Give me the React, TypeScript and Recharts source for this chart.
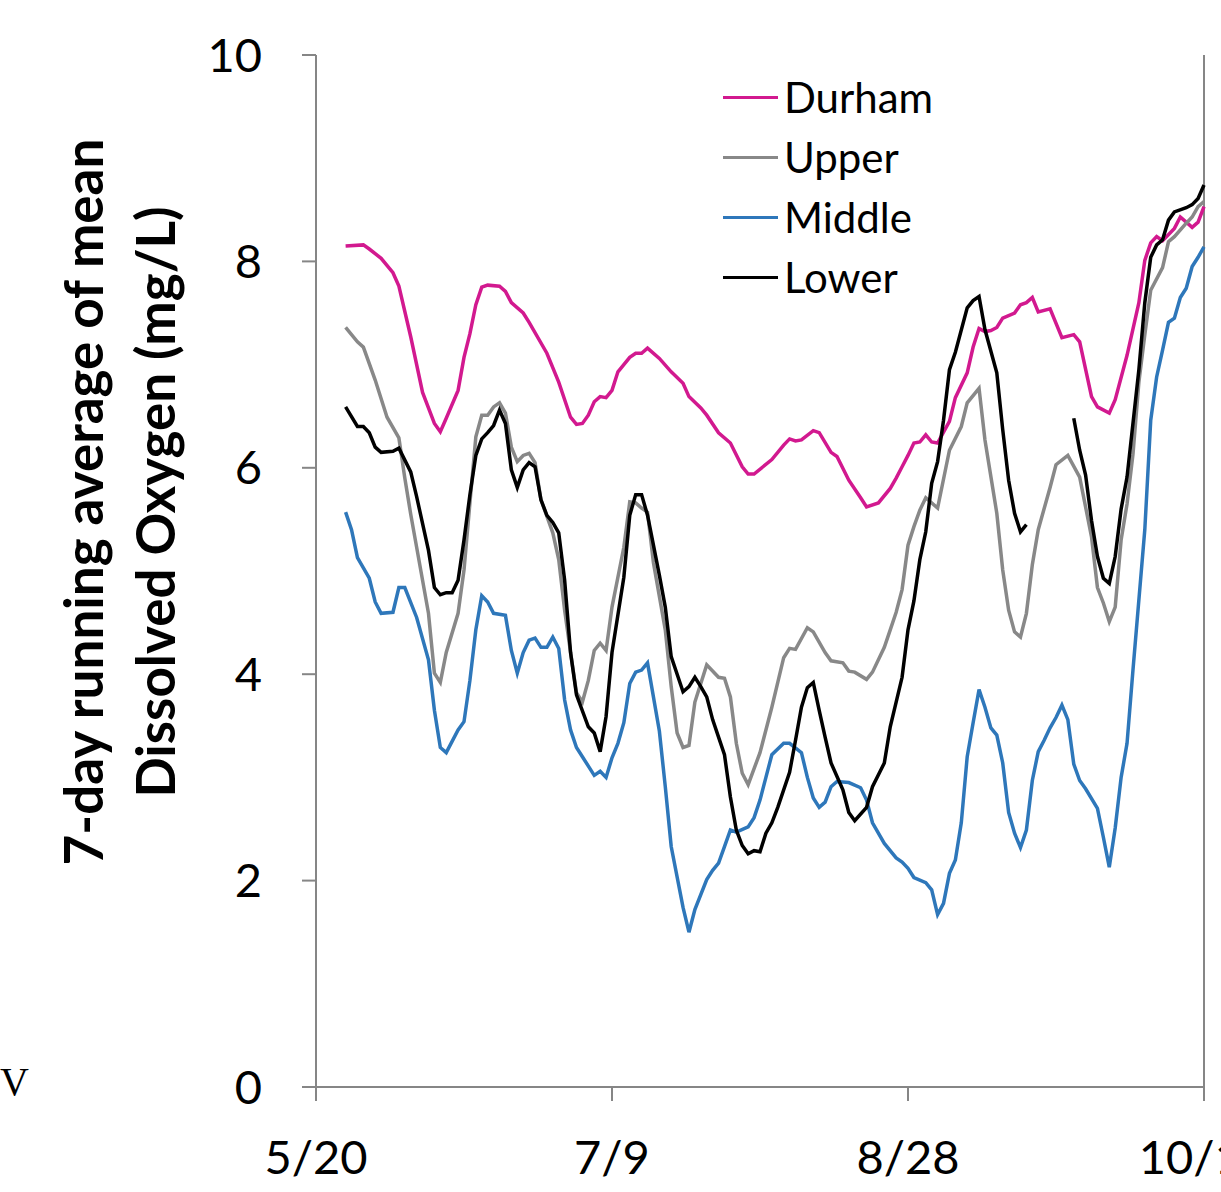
import { LineChart, Line, XAxis, YAxis, Legend, ReferenceLine } from "recharts";

// days since 5/20, 7-day running average of mean DO (mg/L)
const dateTicks = [0, 50, 100, 150];
const dateLabels = ["5/20", "7/9", "8/28", "10/17"];
const doTicks = [0, 2, 4, 6, 8, 10];

const durham: [number, number][] = [
  [5, 8.15], [8, 8.16], [9, 8.12], [11, 8.03], [13, 7.89], [14, 7.76], [16, 7.27], [18, 6.73],
  [20, 6.43], [21, 6.35], [22, 6.48], [24, 6.75], [25, 7.07], [26, 7.3], [27, 7.58], [28, 7.75],
  [29, 7.77], [31, 7.76], [32, 7.71], [33, 7.6], [35, 7.5], [36, 7.41], [39, 7.11], [41, 6.83],
  [43, 6.49], [44, 6.42], [45, 6.43], [46, 6.51], [47, 6.64], [48, 6.69], [49, 6.68], [50, 6.75],
  [51, 6.93], [53, 7.07], [54, 7.11], [55, 7.11], [56, 7.16], [58, 7.06], [60, 6.93], [62, 6.82],
  [63, 6.69], [65, 6.58], [66, 6.51], [68, 6.34], [70, 6.24], [72, 6.01], [73, 5.94], [74, 5.94],
  [77, 6.08], [79, 6.22], [80, 6.28], [81, 6.26], [82, 6.27], [84, 6.36], [85, 6.34], [87, 6.15],
  [88, 6.11], [90, 5.88], [92, 5.71], [93, 5.62], [95, 5.66], [97, 5.8], [98, 5.9], [99, 6.01],
  [100, 6.12], [101, 6.24], [102, 6.25], [103, 6.32], [104, 6.25], [105, 6.24], [107, 6.45],
  [108, 6.68], [110, 6.92], [111, 7.17], [112, 7.35], [113, 7.32], [114, 7.33], [115, 7.36],
  [116, 7.45], [118, 7.5], [119, 7.58], [120, 7.6], [121, 7.65], [122, 7.51], [124, 7.54],
  [126, 7.26], [128, 7.29], [129, 7.22], [131, 6.69], [132, 6.59], [134, 6.53], [135, 6.66],
  [137, 7.09], [139, 7.6], [140, 8.01], [141, 8.18], [142, 8.24], [143, 8.2], [145, 8.32],
  [146, 8.43], [147, 8.38], [148, 8.33], [149, 8.38], [150, 8.53],
];

const upper: [number, number][] = [
  [5, 7.36], [7, 7.22], [8, 7.17], [10, 6.85], [12, 6.49], [14, 6.29], [15, 5.9], [16, 5.55],
  [17, 5.23], [19, 4.59], [20, 4.01], [21, 3.92], [22, 4.21], [24, 4.59], [25, 5.01], [26, 5.66],
  [27, 6.3], [28, 6.51], [29, 6.51], [30, 6.59], [31, 6.63], [32, 6.53], [33, 6.2], [34, 6.06],
  [35, 6.12], [36, 6.14], [37, 6.05], [38, 5.69], [40, 5.37], [41, 5.11], [42, 4.62], [43, 4.21],
  [44, 3.82], [45, 3.73], [46, 3.94], [47, 4.23], [48, 4.3], [49, 4.23], [50, 4.65], [52, 5.23],
  [53, 5.67], [54, 5.66], [55, 5.61], [56, 5.57], [57, 5.08], [59, 4.43], [60, 3.88], [61, 3.43],
  [62, 3.29], [63, 3.31], [64, 3.73], [66, 4.09], [68, 3.97], [69, 3.96], [70, 3.78], [71, 3.33],
  [72, 3.04], [73, 2.93], [75, 3.24], [77, 3.68], [79, 4.16], [80, 4.25], [81, 4.24], [83, 4.45],
  [84, 4.41], [86, 4.21], [87, 4.13], [89, 4.11], [90, 4.03], [91, 4.02], [93, 3.95], [94, 4.02],
  [96, 4.26], [97, 4.43], [98, 4.6], [99, 4.82], [100, 5.25], [101, 5.43], [102, 5.59], [103, 5.71],
  [105, 5.61], [107, 6.17], [109, 6.4], [110, 6.63], [112, 6.77], [113, 6.27], [115, 5.56],
  [116, 5.01], [117, 4.62], [118, 4.41], [119, 4.36], [120, 4.59], [121, 5.06], [122, 5.4],
  [124, 5.81], [125, 6.03], [127, 6.12], [129, 5.91], [131, 5.33], [132, 4.84], [133, 4.69],
  [134, 4.51], [135, 4.65], [136, 5.3], [137, 5.65], [138, 6.13], [139, 6.83], [140, 7.29],
  [141, 7.72], [143, 7.94], [144, 8.19], [145, 8.24], [147, 8.37], [148, 8.43], [149, 8.53],
  [150, 8.58],
];

const middle: [number, number][] = [
  [5, 5.57], [6, 5.4], [7, 5.13], [9, 4.93], [10, 4.7], [11, 4.59], [13, 4.6], [14, 4.84],
  [15, 4.84], [17, 4.55], [19, 4.14], [20, 3.65], [21, 3.29], [22, 3.24], [24, 3.46], [25, 3.54],
  [26, 3.94], [27, 4.43], [28, 4.76], [29, 4.7], [30, 4.59], [32, 4.57], [33, 4.23], [34, 4.01],
  [35, 4.21], [36, 4.33], [37, 4.35], [38, 4.26], [39, 4.26], [40, 4.36], [41, 4.25], [42, 3.75],
  [43, 3.46], [44, 3.29], [45, 3.2], [47, 3.02], [48, 3.06], [49, 3.0], [50, 3.19], [51, 3.33],
  [52, 3.53], [53, 3.91], [54, 4.02], [55, 4.04], [56, 4.11], [58, 3.45], [59, 2.91], [60, 2.33],
  [62, 1.74], [63, 1.5], [64, 1.72], [66, 2.01], [67, 2.1], [68, 2.17], [69, 2.33], [70, 2.49],
  [71, 2.47], [73, 2.52], [74, 2.61], [75, 2.78], [76, 3.0], [77, 3.22], [79, 3.33], [80, 3.33],
  [82, 3.24], [83, 3.0], [84, 2.8], [85, 2.71], [86, 2.76], [87, 2.91], [88, 2.96], [90, 2.95],
  [92, 2.9], [93, 2.78], [94, 2.56], [96, 2.36], [98, 2.22], [99, 2.18], [100, 2.12], [101, 2.03],
  [103, 1.98], [104, 1.91], [105, 1.67], [106, 1.78], [107, 2.07], [108, 2.2], [109, 2.56],
  [110, 3.2], [111, 3.53], [112, 3.85], [113, 3.68], [114, 3.48], [115, 3.41], [116, 3.14],
  [117, 2.66], [118, 2.46], [119, 2.32], [120, 2.49], [121, 2.97], [122, 3.25], [123, 3.36],
  [124, 3.48], [125, 3.58], [126, 3.7], [127, 3.56], [128, 3.13], [129, 2.97], [130, 2.89],
  [132, 2.7], [133, 2.42], [134, 2.13], [135, 2.51], [136, 3.0], [137, 3.33], [138, 4.04],
  [139, 4.72], [140, 5.4], [141, 6.46], [142, 6.88], [143, 7.14], [144, 7.41], [145, 7.45],
  [146, 7.65], [147, 7.74], [148, 7.95], [149, 8.04], [150, 8.14],
];

// null = gap in the record
const lower: [number, number | null][] = [
  [5, 6.59], [7, 6.4], [8, 6.4], [9, 6.34], [10, 6.2], [11, 6.15], [13, 6.16], [14, 6.19],
  [16, 5.96], [17, 5.72], [19, 5.2], [20, 4.84], [21, 4.77], [22, 4.79], [23, 4.79], [24, 4.91],
  [25, 5.3], [26, 5.74], [27, 6.12], [28, 6.28], [29, 6.34], [30, 6.41], [31, 6.56], [32, 6.43],
  [33, 5.98], [34, 5.81], [35, 5.98], [36, 6.05], [37, 6.01], [38, 5.69], [39, 5.54], [40, 5.47],
  [41, 5.37], [42, 4.91], [43, 4.21], [44, 3.8], [46, 3.49], [47, 3.43], [48, 3.25], [49, 3.59],
  [50, 4.21], [52, 4.94], [53, 5.54], [54, 5.74], [55, 5.74], [56, 5.54], [57, 5.25], [58, 4.96],
  [59, 4.65], [60, 4.17], [62, 3.83], [63, 3.88], [64, 3.97], [65, 3.88], [66, 3.78], [67, 3.56],
  [68, 3.39], [69, 3.22], [70, 2.81], [71, 2.49], [72, 2.34], [73, 2.26], [74, 2.29], [75, 2.28],
  [76, 2.46], [77, 2.56], [78, 2.71], [80, 3.05], [81, 3.36], [82, 3.68], [83, 3.87], [84, 3.92],
  [85, 3.65], [86, 3.39], [87, 3.14], [89, 2.88], [90, 2.66], [91, 2.58], [93, 2.71], [94, 2.91],
  [96, 3.14], [97, 3.49], [99, 3.97], [100, 4.43], [101, 4.71], [102, 5.11], [103, 5.38],
  [104, 5.85], [105, 6.06], [106, 6.46], [107, 6.95], [108, 7.12], [110, 7.55], [111, 7.62],
  [112, 7.66], [113, 7.34], [115, 6.92], [116, 6.37], [117, 5.88], [118, 5.56], [119, 5.38],
  [120, 5.45], [124, null], [128, 6.48], [129, 6.17], [130, 5.93], [131, 5.49], [132, 5.14],
  [133, 4.93], [134, 4.88], [135, 5.14], [136, 5.6], [137, 5.91], [139, 6.95], [140, 7.6],
  [141, 8.04], [142, 8.16], [143, 8.21], [144, 8.4], [145, 8.48], [147, 8.52], [148, 8.55],
  [149, 8.61], [150, 8.74],
];

const toRows = (pts: [number, number | null][]) => pts.map(([day, v]) => ({ day, v }));

const SERIES = [
  { name: "Durham", color: "#d2198f", pts: durham },
  { name: "Upper", color: "#888888", pts: upper },
  { name: "Middle", color: "#2e77ba", pts: middle },
  { name: "Lower", color: "#000000", pts: lower },
];

const AXIS = "#868686";
const FONT = "Lato, 'Open Sans', sans-serif";

// legend drawn in the series order (Recharts would sort it by name)
function LegendBox() {
  return (
    <div style={{ fontFamily: FONT }}>
      {SERIES.map((s) => (
        <div key={s.name} style={{ display: "flex", alignItems: "center", height: 60 }}>
          <div style={{ width: 55, height: 3, background: s.color, marginRight: 6 }} />
          <span style={{ fontSize: 42, color: "#000", lineHeight: "60px" }}>{s.name}</span>
        </div>
      ))}
    </div>
  );
}

export default function App() {
  return (
    <div style={{ position: "relative", width: 1221, height: 1192, overflow: "hidden", background: "#fff", fontFamily: FONT }}>
      <style>{"body{margin:0}"}</style>
      <LineChart width={1300} height={1192} margin={{ top: 55, right: 96, left: 0, bottom: 0 }}>
        <XAxis
          dataKey="day"
          type="number"
          domain={[0, 150]}
          ticks={dateTicks}
          interval={0}
          tickFormatter={(d: number) => dateLabels[dateTicks.indexOf(d)]}
          height={105}
          tickSize={14}
          tickMargin={40}
          axisLine={{ stroke: AXIS, strokeWidth: 2 }}
          tickLine={{ stroke: AXIS, strokeWidth: 2 }}
          tick={{ fontSize: 47, fill: "#000", fontFamily: FONT }}
        />
        <YAxis
          type="number"
          domain={[0, 10]}
          ticks={doTicks}
          interval={0}
          width={316}
          tickSize={14}
          tickMargin={40}
          axisLine={{ stroke: AXIS, strokeWidth: 2 }}
          tickLine={{ stroke: AXIS, strokeWidth: 2 }}
          tick={{ fontSize: 47, fill: "#000", fontFamily: FONT }}
        />
        <ReferenceLine x={150} stroke={AXIS} strokeWidth={2} />
        <Legend
          layout="vertical"
          verticalAlign="middle"
          align="center"
          content={LegendBox}
          wrapperStyle={{ top: 67, left: 723, width: 260 }}
        />
        {SERIES.map((s) => (
          <Line
            key={s.name}
            name={s.name}
            data={toRows(s.pts)}
            dataKey="v"
            stroke={s.color}
            strokeWidth={3.5}
            dot={false}
            activeDot={false}
            isAnimationActive={false}
          />
        ))}
      </LineChart>
      <svg width={1221} height={1192} style={{ position: "absolute", left: 0, top: 0, pointerEvents: "none" }}>
        <text transform="translate(103,502) rotate(-90)" textAnchor="middle" fontFamily={FONT} fontWeight="bold" fontSize={53}>
          7-day running average of mean
        </text>
        <text transform="translate(175,502) rotate(-90)" textAnchor="middle" fontFamily={FONT} fontWeight="bold" fontSize={53}>
          Dissolved Oxygen (mg/L)
        </text>
        <text x={0} y={1095} fontFamily="'Liberation Serif', serif" fontSize={40}>V</text>
      </svg>
    </div>
  );
}
